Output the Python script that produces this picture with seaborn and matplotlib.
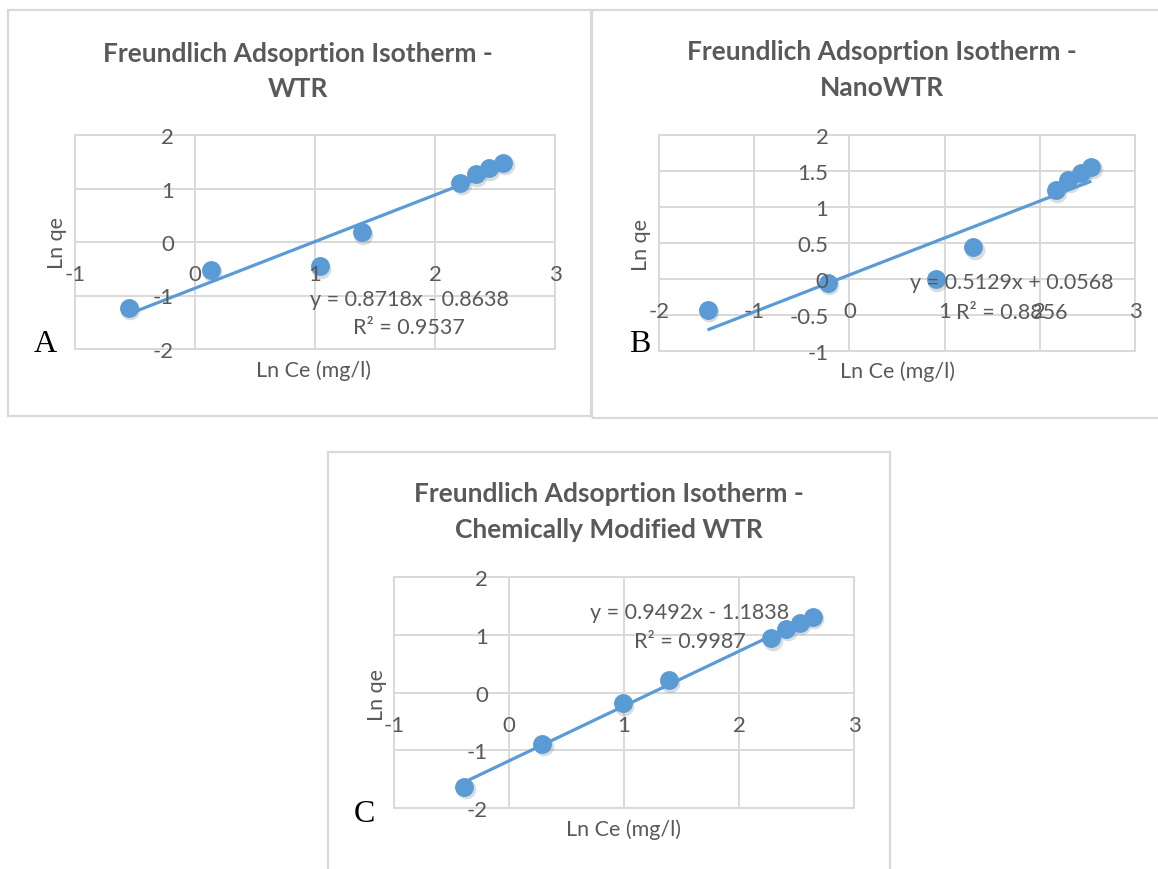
import numpy as np
import pandas as pd
import matplotlib
matplotlib.use("Agg")
import matplotlib.pyplot as plt
import matplotlib.transforms as mtransforms
from matplotlib.patches import Rectangle
import seaborn as sns

# Ln Ce / Ln qe pairs for each adsorbent
wtr_ln_ce = [-0.55, 0.13, 1.04, 1.39, 2.21, 2.34, 2.45, 2.57]
wtr_ln_qe = [-1.23, -0.52, -0.45, 0.18, 1.11, 1.27, 1.38, 1.48]
nano_ln_ce = [-1.49, -0.23, 0.91, 1.30, 2.17, 2.30, 2.43, 2.54]
nano_ln_qe = [-0.43, -0.05, 0.00, 0.44, 1.23, 1.37, 1.47, 1.56]
mod_ln_ce = [-0.39, 0.29, 0.99, 1.39, 2.28, 2.41, 2.53, 2.64]
mod_ln_qe = [-1.63, -0.89, -0.19, 0.21, 0.94, 1.10, 1.21, 1.31]

# Linear trendlines: slope, intercept, R²
wtr_fit = (0.8718, -0.8638, 0.9537)
nano_fit = (0.5129, 0.0568, 0.8856)
mod_fit = (0.9492, -1.1838, 0.9987)

titles = [
    "Freundlich Adsoprtion Isotherm -\nWTR",
    "Freundlich Adsoprtion Isotherm -\nNanoWTR",
    "Freundlich Adsoprtion Isotherm -\nChemically Modified WTR",
]
panel_letters = ["A", "B", "C"]
x_label = "Ln Ce (mg/l)"
y_label = "Ln qe"
x_ticks = [[-1, 0, 1, 2, 3], [-2, -1, 0, 1, 2, 3], [-1, 0, 1, 2, 3]]
y_ticks = [[-2, -1, 0, 1, 2], [-1, -0.5, 0, 0.5, 1, 1.5, 2], [-2, -1, 0, 1, 2]]

BLUE = "#5B9BD5"
GRID = "#D9D9D9"
TEXT = "#595959"
W, H = 1158, 870

sns.set_theme(style="white")
plt.rcParams["font.family"] = ["Lato", "DejaVu Sans"]

fig = plt.figure(figsize=(W / 100, H / 100), dpi=100)
fig.patch.set_facecolor("white")


def fx(px):
    return px / W


def fy(py):
    return 1 - py / H


def box(x0, y0, x1, y1):
    fig.patches.append(Rectangle((fx(x0), fy(y1)), fx(x1 - x0), (y1 - y0) / H,
                                 transform=fig.transFigure, fill=False,
                                 edgecolor=GRID, linewidth=1.6, zorder=0))


def add_axes(x0, y0, x1, y1):
    return fig.add_axes([fx(x0), fy(y1), fx(x1 - x0), (y1 - y0) / H])


def fmt(v):
    return f"{v:g}"


def draw_panel(ax, ln_ce, ln_qe, fit, xt, yt):
    df = pd.DataFrame({"Ln Ce": ln_ce, "Ln qe": ln_qe})
    slope, intercept, _ = fit

    # gridlines kept beneath the data; tick labels sit above it
    for v in xt:
        ax.axvline(v, color=GRID, lw=1.4, zorder=0.5)
    for v in yt:
        ax.axhline(v, color=GRID, lw=1.4, zorder=0.5)

    xs = np.array([min(ln_ce), max(ln_ce)])
    ax.plot(xs, slope * xs + intercept, color=BLUE, lw=2.3, zorder=3,
            solid_capstyle="butt")
    shadow = mtransforms.offset_copy(ax.transData, fig=fig, x=1.0, y=-1.8,
                                     units="points")
    sns.scatterplot(data=df, x="Ln Ce", y="Ln qe", ax=ax, s=200,
                    color="#6f7a86", alpha=0.25, linewidth=0,
                    transform=shadow, zorder=2, legend=False)
    sns.scatterplot(data=df, x="Ln Ce", y="Ln qe", ax=ax, s=185,
                    color=BLUE, linewidth=0, zorder=4, legend=False)

    ax.set_xlim(xt[0], xt[-1])
    ax.set_ylim(yt[0], yt[-1])
    ax.set_xticks(xt)
    ax.set_yticks(yt)
    ax.set_xticklabels([fmt(v) for v in xt])
    ax.set_yticklabels([fmt(v) for v in yt])
    ax.set_xlabel("")
    ax.set_ylabel("")
    ax.grid(False)
    ax.set_axisbelow(False)
    ax.xaxis.set_zorder(5)
    ax.yaxis.set_zorder(5)
    for side in ["top", "right"]:
        ax.spines[side].set_visible(False)
    for side in ["left", "bottom"]:
        ax.spines[side].set_position(("data", 0))
        ax.spines[side].set_visible(False)
    ax.patch.set_edgecolor(GRID)
    ax.patch.set_linewidth(1.4)
    ax.tick_params(axis="x", length=0, pad=16, labelsize=16, labelcolor=TEXT)
    ax.tick_params(axis="y", length=0, pad=15, labelsize=16, labelcolor=TEXT)


def ftext(x, y, s, **kw):
    kw.setdefault("ha", "center")
    kw.setdefault("va", "center")
    kw.setdefault("color", TEXT)
    fig.text(fx(x), fy(y), s, **kw)


# panel frames
box(8, 11, 591, 417)
box(592, 11, 1170, 419)
box(328, 453, 890, 890)

axes = [add_axes(75, 136, 555, 350),
        add_axes(659, 136, 1135, 352),
        add_axes(394, 578, 854, 809)]

series = [(wtr_ln_ce, wtr_ln_qe, wtr_fit),
          (nano_ln_ce, nano_ln_qe, nano_fit),
          (mod_ln_ce, mod_ln_qe, mod_fit)]

for ax, (ce, qe, fit), xt, yt in zip(axes, series, x_ticks, y_ticks):
    draw_panel(ax, ce, qe, fit, xt, yt)

# titles
for (cx, cy), t in zip([(298, 72), (882, 70), (609, 512)], titles):
    ftext(cx, cy, t, fontsize=19, fontweight="bold", linespacing=1.55)

# axis titles
for (cx, cy) in [(314, 371), (897, 372), (624, 830)]:
    ftext(cx, cy, x_label, fontsize=15.5)
for (cx, cy) in [(57, 243), (641, 245), (377, 695)]:
    ftext(cx, cy, y_label, fontsize=15.5, rotation=90)

# trendline equations
for (cx, cy1, cy2), (m, b, r2) in zip([(409, 300, 328), (1012, 283, 313),
                                       (690, 613, 642)],
                                      [wtr_fit, nano_fit, mod_fit]):
    sign = "+" if b >= 0 else "-"
    ftext(cx, cy1, f"y = {m:.4f}x {sign} {abs(b):.4f}", fontsize=15.5)
    ftext(cx, cy2, f"R² = {r2:.4f}", fontsize=15.5)

# panel letters
for (cx, cy), letter in zip([(45, 345), (640, 345), (364, 815)], panel_letters):
    ftext(cx, cy, letter, fontsize=23, color="black",
          family=["Liberation Serif", "DejaVu Serif"])

fig.savefig("out.png", dpi=100, facecolor="white")
